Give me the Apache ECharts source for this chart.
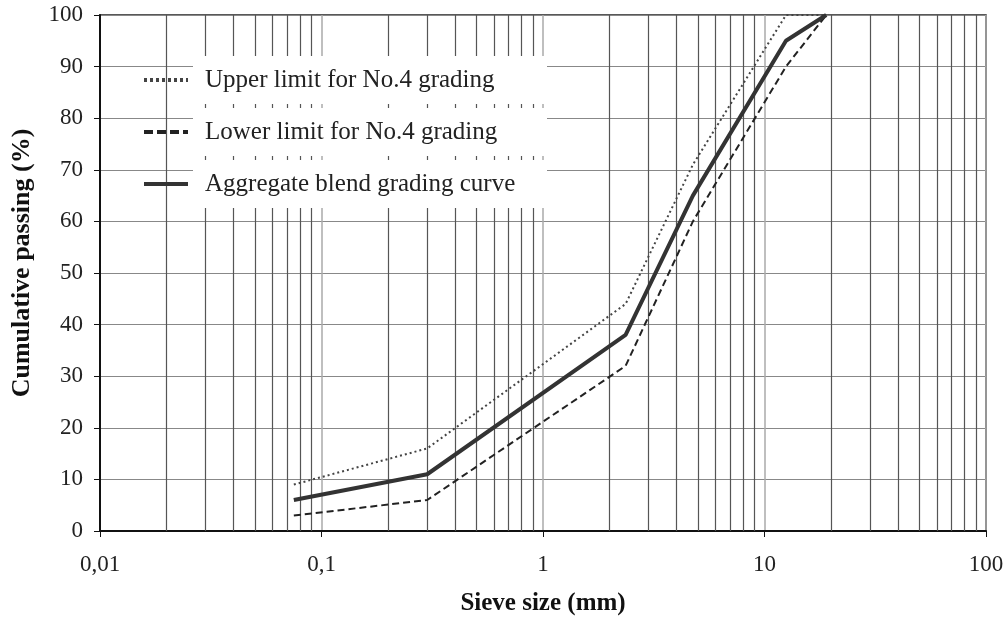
<!DOCTYPE html>
<html><head><meta charset="utf-8">
<script src="https://cdn.jsdelivr.net/npm/echarts@6/dist/echarts.min.js"></script>
<style>html,body{margin:0;padding:0;background:#fff}#c{width:1008px;height:621px}</style>
</head><body><div id="c"></div>
<script>
const sieveSizes = [0.075, 0.3, 2.36, 4.75, 12.5, 19];
const upperLimit = [9, 16, 44, 71, 100, 100];
const lowerLimit = [3, 6, 32, 60, 90, 100];
const blendCurve = [6, 11, 38, 65, 95, 100];
const seriesNames = ['Upper limit for No.4 grading', 'Lower limit for No.4 grading', 'Aggregate blend grading curve'];
const xTickLabels = {0.01: '0,01', 0.1: '0,1', 1: '1', 10: '10', 100: '100'};
const minorGridValues = [0.02,0.03,0.04,0.05,0.06,0.07,0.08,0.09,0.2,0.3,0.4,0.5,0.6,0.7,0.8,0.9,2,3,4,5,6,7,8,9,20,30,40,50,60,70,80,90];

function pairs(vals){ return sieveSizes.map((s,i)=>[s, vals[i]]); }
const serif = 'Liberation Serif, Times New Roman, serif';

const chart = echarts.init(document.getElementById('c'), null, {renderer:'canvas'});
chart.setOption({
  backgroundColor: '#fff',
  animation: false,
  grid: {left: 100, right: 22, top: 15, bottom: 87, show: true, borderColor: '#222', borderWidth: 1.5},
  legend: {
    orient: 'vertical', left: 137, top: 51, z: 6,
    itemWidth: 44, itemHeight: 14, itemGap: 4,
    itemStyle: {opacity: 0},
    data: [
      {name: seriesNames[0], lineStyle: {width: 4, type: [3, 3]}},
      {name: seriesNames[1], lineStyle: {width: 4, type: [9, 4]}},
      {name: seriesNames[2], lineStyle: {width: 4}}
    ],
    textStyle: {fontFamily: serif, fontSize: 25, lineHeight: 28, color: '#222', backgroundColor: '#fff', padding: [10, 12], width: 330},
    selectedMode: false
  },
  xAxis: {
    type: 'log', logBase: 10, min: 0.01, max: 100,
    name: 'Sieve size (mm)', nameLocation: 'middle', nameGap: 60,
    nameTextStyle: {fontFamily: serif, fontSize: 25, fontWeight: 'bold', color: '#111'},
    axisLine: {onZero: false, lineStyle: {color: '#111', width: 2}},
    axisTick: {show: true, length: 6, lineStyle: {color: '#111'}},
    axisLabel: {fontFamily: serif, fontSize: 23, color: '#222', margin: 22, formatter: v => xTickLabels[v] !== undefined ? xTickLabels[v] : ''},
    splitLine: {show: true, lineStyle: {color: '#aaa', width: 1.5}}
  },
  yAxis: {
    type: 'value', min: 0, max: 100, interval: 10,
    name: 'Cumulative passing (%)', nameLocation: 'middle', nameGap: 65,
    nameTextStyle: {fontFamily: serif, fontSize: 26, fontWeight: 'bold', color: '#111', padding: [0, 0, 0, 20]},
    axisLine: {show: true, lineStyle: {color: '#111', width: 2}},
    axisTick: {show: true, length: 6, lineStyle: {color: '#111'}},
    axisLabel: {fontFamily: serif, fontSize: 23, color: '#222', margin: 17},
    splitLine: {show: true, lineStyle: {color: '#888', width: 1.2}}
  },
  series: [
    {
      name: 'minor', type: 'line', data: [], silent: true, z: 1,
      markLine: {
        silent: true, z: 1, symbol: ['none','none'], label: {show: false},
        lineStyle: {color: '#555', width: 1.2, type: 'solid'},
        emphasis: {disabled: true},
        data: minorGridValues.map(v => ({xAxis: v}))
      }
    },
    {name: seriesNames[0], type: 'line', data: pairs(upperLimit), symbol: 'none', z: 3,
     lineStyle: {color: '#444', width: 2, type: [2, 3]}, itemStyle: {color: '#444'}},
    {name: seriesNames[1], type: 'line', data: pairs(lowerLimit), symbol: 'none', z: 3,
     lineStyle: {color: '#222', width: 2, type: [7, 4]}, itemStyle: {color: '#222'}},
    {name: seriesNames[2], type: 'line', data: pairs(blendCurve), symbol: 'none', z: 4,
     lineStyle: {color: '#333', width: 4}, itemStyle: {color: '#333'}}
  ]
});
</script></body></html>
